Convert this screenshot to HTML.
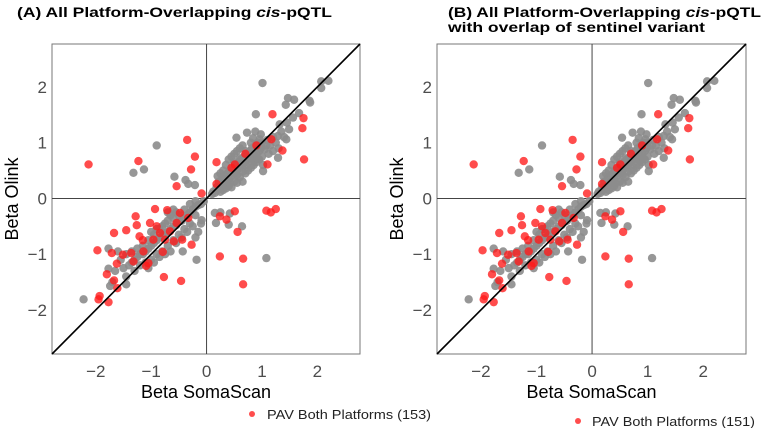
<!DOCTYPE html>
<html><head><meta charset="utf-8"><style>
html,body{margin:0;padding:0;background:#fff;}
svg{display:block;font-family:"Liberation Sans",sans-serif;}
</style></head><body>
<svg id="chart" width="763" height="428" viewBox="0 0 763 428" xmlns="http://www.w3.org/2000/svg">
<text x="17" y="17" font-size="14" font-weight="bold" textLength="315" lengthAdjust="spacingAndGlyphs">(A) All Platform-Overlapping <tspan font-style="italic">cis</tspan>-pQTL</text>
<text x="448" y="17" font-size="14" font-weight="bold" textLength="313" lengthAdjust="spacingAndGlyphs">(B) All Platform-Overlapping <tspan font-style="italic">cis</tspan>-pQTL</text>
<text x="448" y="32" font-size="14" font-weight="bold" textLength="257" lengthAdjust="spacingAndGlyphs">with overlap of sentinel variant</text>
<g id="panelA"></g>
<g id="panelB"></g>
<circle cx="252" cy="414" r="3" fill="#ff2020" fill-opacity="0.8"/>
<text x="267" y="419" font-size="13" textLength="164" lengthAdjust="spacingAndGlyphs" fill="#222">PAV Both Platforms (153)</text>
<circle cx="578" cy="421" r="3" fill="#ff2020" fill-opacity="0.8"/>
<text x="592" y="426" font-size="13" textLength="163" lengthAdjust="spacingAndGlyphs" fill="#222">PAV Both Platforms (151)</text>
</svg>
<script>
const tickValues = [-2, -1, 0, 1, 2];
const tickLabels = ["\u22122", "\u22121", "0", "1", "2"];
const axisMin = -2.79, axisMax = 2.77;
const greyPoints = [
[1.01,2.07],[2.07,2.10],[2.20,2.11],[2.07,1.98],[1.47,1.80],[1.58,1.77],[1.86,1.75],[1.87,1.72],[1.43,1.68],[1.67,1.53],[0.89,1.51],[1.56,1.45],[1.45,1.36],[1.32,1.33],[1.49,1.24],[0.73,1.18],[0.84,1.08],[0.54,1.09],[0.96,1.06],[1.29,1.12],[1.44,1.06],[1.29,0.73],[1.02,0.49],
[0.1,0.08],[0.15,0.1],[0.2,0.15],[0.22,0.3],[0.25,0.2],[0.28,0.35],[0.3,0.25],[0.32,0.4],[0.35,0.3],[0.38,0.45],[0.4,0.35],[0.42,0.5],[0.45,0.4],[0.48,0.55],[0.5,0.45],[0.52,0.6],[0.55,0.5],[0.58,0.65],[0.6,0.55],[0.62,0.7],[0.65,0.6],[0.68,0.75],[0.7,0.65],[0.72,0.8],[0.75,0.7],[0.78,0.85],[0.8,0.72],[0.82,0.9],[0.85,0.78],[0.88,0.95],[0.9,0.8],[0.92,1.0],[0.95,0.85],[0.98,0.9],[1.0,1.0],[1.05,0.88],[1.08,0.95],[1.1,1.05],[1.15,0.95],[1.2,1.1],[1.25,1.0],[1.3,0.9],[1.35,1.2],[1.4,1.1],[0.3,0.5],[0.35,0.6],[0.4,0.7],[0.25,0.45],[0.2,0.4],[0.45,0.75],[0.5,0.8],[0.55,0.85],[0.6,0.9],[0.65,0.95],[0.3,0.15],[0.4,0.22],[0.5,0.3],[0.6,0.38],[0.7,0.45],[0.75,0.5],[0.8,0.55],[0.85,0.6],[0.9,0.65],[0.95,0.7],[1.0,0.75],[0.45,0.2],[0.55,0.28],[0.65,0.3],[0.35,0.18],[0.25,0.12],[0.6,0.72],[0.7,0.85],[0.8,1.0],[0.5,0.65],[0.55,0.42],[0.65,0.48],[0.72,0.6],[0.85,0.68],[0.92,0.72],[0.42,0.28],[0.18,0.2],[0.12,0.12],[1.12,0.8],[1.2,0.85],[0.98,1.15],[0.88,1.2],[1.02,0.6],
[-0.90,0.95],[-1.32,0.46],[-1.13,0.52],[-0.58,0.39],[-0.38,0.33],[-0.33,0.26],[-0.21,0.24],
[0.15,-0.26],[0.25,-0.25],[0.17,-0.44],[0.42,-0.27],[0.40,-0.47],[0.64,-0.50],[1.08,-1.07],[-0.09,-0.39],
[-2.22,-1.81],[-1.77,-1.26],[-1.74,-1.57],[-1.45,-1.54],[-0.18,-1.10],[-0.43,-0.95],[-1.77,-0.90],
[-0.05,-0.05],[-0.1,-0.1],[-0.15,-0.12],[-0.2,-0.15],[-0.25,-0.2],[-0.3,-0.25],[-0.35,-0.3],[-0.4,-0.35],[-0.45,-0.4],[-0.5,-0.42],[-0.55,-0.48],[-0.6,-0.5],[-0.65,-0.55],[-0.7,-0.6],[-0.75,-0.62],[-0.8,-0.68],[-0.85,-0.7],[-0.9,-0.75],[-0.95,-0.8],[-1.0,-0.85],[-1.05,-0.9],[-1.1,-0.95],[-1.15,-1.0],[-1.2,-1.0],[-1.25,-1.05],[-1.3,-1.1],[-1.35,-1.15],[-1.4,-1.2],[-1.5,-1.25],[-0.3,-0.45],[-0.4,-0.55],[-0.5,-0.65],[-0.6,-0.75],[-0.7,-0.85],[-0.8,-0.95],[-0.9,-1.0],[-1.0,-1.1],[-1.1,-1.15],[-0.4,-0.2],[-0.5,-0.3],[-0.6,-0.35],[-0.7,-0.4],[-0.8,-0.5],[-0.9,-0.55],[-1.0,-0.6],[-0.55,-0.25],[-0.65,-0.3],[-0.75,-0.45],[-0.85,-0.55],[-0.95,-0.65],[-1.05,-0.75],[-1.15,-0.85],[-1.25,-0.9],[-1.35,-0.95],[-1.45,-1.0],[-1.6,-0.95],[-1.55,-1.1],[-1.65,-1.3],[-1.7,-1.5],[-1.45,-1.4],[-1.3,-1.3],[-1.2,-1.2],[-0.2,-0.3],[-0.25,-0.5],[-0.15,-0.6],[-0.2,-0.7],[-0.1,-0.45],[-0.35,-0.6],[-0.45,-0.7],[-0.55,-0.8],[-0.65,-0.95],[-0.75,-1.0],[-0.85,-1.05],[-0.95,-1.15],[-1.05,-1.25],[-0.3,-0.1],[-0.2,-0.05],[-0.6,-0.2],[-0.7,-0.25]
];
const redPoints = [
[-2.13,0.61],[-1.23,0.67],[-0.35,1.05],[-0.21,0.75],[-0.28,0.52],[-0.54,0.22],[-0.09,0.09],[0.18,0.65],[0.18,0.26],[1.19,1.51],[1.75,1.44],[1.73,1.26],[1.37,0.86],[1.76,0.70],[1.10,0.61],[1.17,1.06],[0.51,0.61],
[0.24,-0.32],[0.36,-0.38],[0.51,-0.23],[0.56,-0.60],[1.08,-0.22],[1.16,-0.25],[1.25,-0.19],[0.24,-1.04],[0.66,-1.08],[0.66,-1.54],
[-1.97,-0.93],[-1.67,-0.62],[-1.45,-0.57],[-1.28,-0.32],[-1.26,-0.48],[-1.21,-0.68],[-1.15,-0.75],[-0.93,-0.19],[-1.02,-0.44],[-0.71,-0.21],[-0.48,-0.26],[-0.27,-0.83],[-1.51,-1.01],[-1.62,-1.17],[-1.71,-0.98],[-1.32,-1.13],[-1.14,-0.95],[-1.09,-1.21],[-1.80,-1.36],[-1.67,-1.47],[-1.61,-1.61],[-1.93,-1.75],[-1.95,-1.81],[-1.77,-1.86],[-0.77,-1.41],[-0.46,-1.48],[-0.79,-0.96],[-0.75,-0.74],[-0.59,-0.77],[-0.44,-0.74],[-0.96,-0.74],[-0.84,-0.62],[-0.54,-0.44],[-1.36,-0.98],[-1.05,-1.16],[-0.33,-0.35],[-0.66,-0.59],[-0.90,-0.50],[0.45,0.55],[0.7,0.8],[0.9,0.95]
];

const NS = "http://www.w3.org/2000/svg";
function mk(tag, attrs, parent) {
  const el = document.createElementNS(NS, tag);
  for (const k in attrs) el.setAttribute(k, attrs[k]);
  parent.appendChild(el);
  return el;
}
function drawPanel(g, left, right, top, bottom, prefix) {
  const sx = v => left + (v - axisMin) / (axisMax - axisMin) * (right - left);
  const sy = v => bottom - (v - axisMin) / (axisMax - axisMin) * (bottom - top);
  const frame = mk("rect", {x: left, y: top, width: right - left, height: bottom - top, fill: "none", stroke: "#777", "stroke-width": 1}, g);
  
  
  const v0 = mk("line", {x1: sx(0), x2: sx(0), y1: top, y2: bottom, stroke: "#444", "stroke-width": 1}, g);
  
  
  const h0 = mk("line", {x1: left, x2: right, y1: sy(0), y2: sy(0), stroke: "#444", "stroke-width": 1}, g);
  
  
  greyPoints.forEach(p => {
    const c = mk("circle", {cx: sx(p[0]), cy: sy(p[1]), r: 4.2, fill: "#8c8c8c", "fill-opacity": 0.9}, g);
    
    
  });
  redPoints.forEach(p => {
    const c = mk("circle", {cx: sx(p[0]), cy: sy(p[1]), r: 4.2, fill: "#ff1a1a", "fill-opacity": 0.78}, g);
    
    
  });
  const diag = mk("line", {x1: sx(axisMin), y1: sy(axisMin), x2: sx(axisMax), y2: sy(axisMax), stroke: "#000", "stroke-width": 1.6}, g);
  
  
  tickValues.forEach((t, i) => {
    const xt = mk("text", {x: sx(t), y: 377, "font-size": 17, fill: "#4d4d4d", "text-anchor": "middle"}, g);
    xt.textContent = tickLabels[i];
    
    
    const yt = mk("text", {x: left - 5, y: sy(t) + 6, "font-size": 17, fill: "#4d4d4d", "text-anchor": "end"}, g);
    yt.textContent = tickLabels[i];
    
    
  });
  const xtitle = mk("text", {x: (left + right) / 2, y: 398, "font-size": 18, fill: "#000", "text-anchor": "middle"}, g);
  xtitle.textContent = "Beta SomaScan";
  
  
  const yx = left - 34, yy = (top + bottom) / 2;
  const ytitle = mk("text", {x: yx, y: yy, "font-size": 18, fill: "#000", "text-anchor": "middle", transform: "rotate(-90 " + yx + " " + yy + ")"}, g);
  ytitle.textContent = "Beta Olink";
  
  
}
drawPanel(document.getElementById("panelA"), 52, 360, 44, 354, "a");
drawPanel(document.getElementById("panelB"), 437, 746, 44, 354, "b");
</script>
</body></html>
